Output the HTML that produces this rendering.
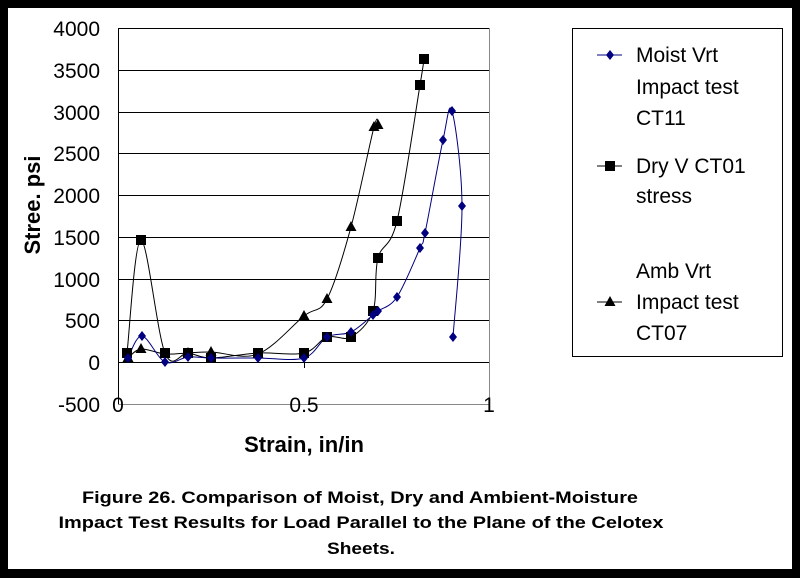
<!DOCTYPE html>
<html><head><meta charset="utf-8"><style>html,body{margin:0;padding:0;background:#000}svg{display:block}</style></head>
<body>
<svg id="s" width="800" height="578" xmlns="http://www.w3.org/2000/svg" font-family="Liberation Sans, Arial, sans-serif">
<rect x="0" y="0" width="800" height="578" fill="#000"/>
<rect x="8" y="8" width="784" height="561" fill="#fff"/>
<g stroke="#000" stroke-width="1">
<line x1="118" y1="28.5" x2="489" y2="28.5"/>
<line x1="118" y1="70.5" x2="489" y2="70.5"/>
<line x1="118" y1="112.5" x2="489" y2="112.5"/>
<line x1="118" y1="153.5" x2="489" y2="153.5"/>
<line x1="118" y1="195.5" x2="489" y2="195.5"/>
<line x1="118" y1="237.5" x2="489" y2="237.5"/>
<line x1="118" y1="279.5" x2="489" y2="279.5"/>
<line x1="118" y1="320.5" x2="489" y2="320.5"/>
<line x1="118" y1="362.5" x2="489" y2="362.5"/>
<line x1="118.5" y1="28" x2="118.5" y2="404"/>
<line x1="304.5" y1="362" x2="304.5" y2="368"/>
<line x1="489.5" y1="362" x2="489.5" y2="368"/>
</g>
<line x1="489.5" y1="28" x2="489.5" y2="404" stroke="#888"/>
<line x1="118" y1="404.5" x2="489" y2="404.5" stroke="#888"/>
<g font-size="21" text-anchor="end" fill="#000">
<text x="100" y="36">4000</text><text x="100" y="78">3500</text><text x="100" y="120">3000</text>
<text x="100" y="161">2500</text><text x="100" y="203">2000</text><text x="100" y="245">1500</text>
<text x="100" y="287">1000</text><text x="100" y="328">500</text><text x="100" y="370">0</text>
<text x="100" y="412">-500</text>
</g>
<g font-size="21" text-anchor="middle">
<text x="118" y="412">0</text><text x="304" y="412">0.5</text><text x="489" y="412">1</text>
</g>
<text font-size="22" font-weight="bold" text-anchor="middle" transform="translate(40,205) rotate(-90)">Stree. psi</text>
<text x="304" y="452" font-size="22" font-weight="bold" text-anchor="middle">Strain, in/in</text>
<g font-size="17" font-weight="bold" text-anchor="middle">
<text x="360" y="503" textLength="556" lengthAdjust="spacingAndGlyphs">Figure 26. Comparison of Moist, Dry and Ambient-Moisture</text>
<text x="361" y="528" textLength="605" lengthAdjust="spacingAndGlyphs">Impact Test Results for Load Parallel to the Plane of the Celotex</text>
<text x="361" y="554" textLength="68" lengthAdjust="spacingAndGlyphs">Sheets.</text>
</g>
<rect x="572.5" y="28.5" width="210" height="328" fill="none" stroke="#000"/>
<g font-size="21">
<text x="636" y="62">Moist Vrt</text><text x="636" y="94">Impact test</text><text x="636" y="125">CT11</text>
<text x="636" y="173">Dry V CT01</text><text x="636" y="203">stress</text>
<text x="636" y="278">Amb Vrt</text><text x="636" y="309">Impact test</text><text x="636" y="340">CT07</text>
</g>
</svg>
<script>
var NS="http://www.w3.org/2000/svg",S=document.getElementById('s');
function path(p,col){var d="M"+p[0][0]+","+p[0][1];for(var i=0;i<p.length-1;i++){var p0=p[i-1]||p[i],p1=p[i],p2=p[i+1],p3=p[i+2]||p2;var t=1/6;d+=" C"+(p1[0]+(p2[0]-p0[0])*t)+","+(p1[1]+(p2[1]-p0[1])*t)+" "+(p2[0]-(p3[0]-p1[0])*t)+","+(p2[1]-(p3[1]-p1[1])*t)+" "+p2[0]+","+p2[1];}
var e=document.createElementNS(NS,'path');e.setAttribute('d',d);e.setAttribute('fill','none');e.setAttribute('stroke',col);e.setAttribute('stroke-width',1);S.appendChild(e);}
function mk(x,y,type,col){var e;if(type=='d'){e=document.createElementNS(NS,'polygon');e.setAttribute('points',(x)+","+(y-5)+" "+(x+4)+","+y+" "+x+","+(y+5)+" "+(x-4)+","+y);}
else if(type=='s'){e=document.createElementNS(NS,'rect');e.setAttribute('x',x-5);e.setAttribute('y',y-5);e.setAttribute('width',10);e.setAttribute('height',10);}
else{e=document.createElementNS(NS,'polygon');e.setAttribute('points',x+","+(y-6)+" "+(x+5.5)+","+(y+4)+" "+(x-5.5)+","+(y+4));}
e.setAttribute('fill',col);S.appendChild(e);}
var moist=[[128,358],[142,336],[165,362],[188,357],[211,358],[258,358],[304,358],[327,337],[351,332],[373,315],[378,311],[397,297],[420,248],[425,233],[443,140],[452,111],[462,206],[453,337]];
var dry=[[127,353],[141,240],[165,353],[188,353],[211,358],[258,353],[304,353],[327,337],[351,337],[373,311],[378,258],[397,221],[420,85],[424,59]];
var ambp=[[128,358],[141,349],[165,354],[188,353],[211,352],[258,354],[304,316],[327,299],[351,227],[374,127],[378,125]];
path(ambp,'#000');path(dry,'#000');path(moist,'#000080');
ambp.forEach(function(p){mk(p[0],p[1],'t','#000');});
dry.forEach(function(p){mk(p[0],p[1],'s','#000');});
moist.forEach(function(p){mk(p[0],p[1],'d','#000080');});
[[62,'#000080','d'],[173,'#000','s'],[309,'#000','t']].forEach(function(a){var l=document.createElementNS(NS,'line');l.setAttribute('x1',597);l.setAttribute('x2',622);l.setAttribute('y1',a[0]-7);l.setAttribute('y2',a[0]-7);l.setAttribute('stroke',a[1]);S.appendChild(l);mk(610,a[0]-7,a[2],a[1]);});
</script>
</body></html>
